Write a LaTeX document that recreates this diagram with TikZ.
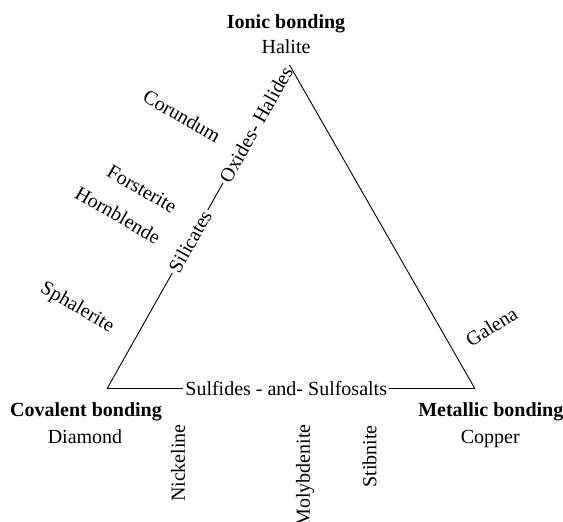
\documentclass[tikz,border=0pt]{standalone}
\usepackage{fontspec}
\setmainfont{Liberation Serif}
\begin{document}
\begin{tikzpicture}[x=1pt,y=-1pt,
  every node/.style={font=\fontsize{20}{24}\selectfont},
  lbl/.style={inner sep=0pt},
  head/.style={inner sep=0pt,anchor=base,font=\fontsize{20}{24}\selectfont\bfseries},
  sub/.style={inner sep=0pt,anchor=base},
  edgelbl/.style={inner sep=2pt},
  vert/.style={inner sep=0pt,rotate=90,anchor=east},
  edgeline/.style={line width=0.9pt}]
\useasboundingbox (0,0) rectangle (563,522);
\coordinate (L) at (107,388.8);
\coordinate (T) at (289.5,65);
\coordinate (R) at (475,388.8);
% vertex labels
\node[head] (ionic) at (286,28) {Ionic bonding};
\node[sub] (halite) at (286,53) {Halite};
\node[head] (cov) at (86,416.7) {Covalent bonding};
\node[sub] (diamond) at (85,443.3) {Diamond};
\node[head] (met) at (490.8,416.7) {Metallic bonding};
\node[sub] (copper) at (490.3,443.3) {Copper};
% edge labels
\path (L) -- (T)
  node[edgelbl,pos=0.455,sloped] (sil) {Silicates}
  node[edgelbl,pos=0.816,sloped] (oxh) {Oxides- Halides};
\path (L) -- (R)
  node[edgelbl,pos=0.487] (sul) {Sulfides - and- Sulfosalts};
% edges
\draw[edgeline] (L) -- (sil.west);
\draw[edgeline] (sil.east) -- (oxh.west);
\draw[edgeline] (T) -- (R);
\draw[edgeline] (L) -- (sul.west);
\draw[edgeline] (sul.east) -- (R);
% mineral labels
\node[lbl,rotate=-30] (corundum) at (182,116) {Corundum};
\node[lbl,rotate=-30] (forsterite) at (142,189) {Forsterite};
\node[lbl,rotate=-30] (hornblende) at (118,215) {Hornblende};
\node[lbl,rotate=-30] (sphalerite) at (77,308) {Sphalerite};
\node[lbl,rotate=32] (galena) at (491.5,326.5) {Galena};
\node[vert] (nickeline) at (178,424) {Nickeline};
\node[vert] (molybdenite) at (305,424) {Molybdenite};
\node[vert] (stibnite) at (369.5,425) {Stibnite};
\end{tikzpicture}
\end{document}
